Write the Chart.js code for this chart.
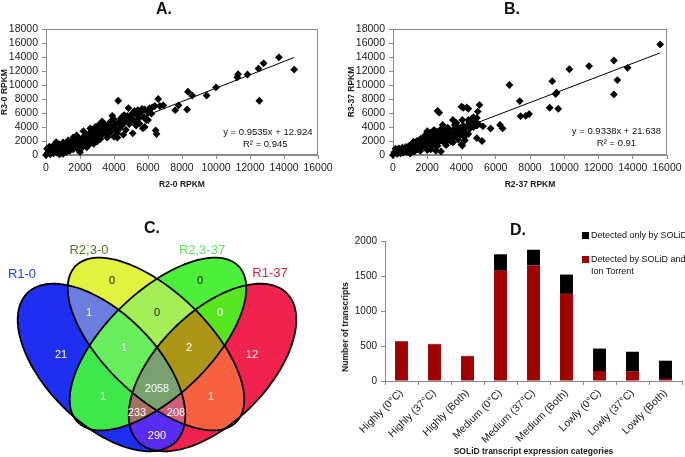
<!DOCTYPE html>
<html>
<head>
<meta charset="utf-8">
<script src="https://cdn.jsdelivr.net/npm/chart.js@4.4.0/dist/chart.umd.min.js"></script>
<style>
body { margin: 0; background: #fff; font-family: "Liberation Sans", Arial, sans-serif; }
#wrap { position: relative; width: 685px; height: 457px; overflow: hidden; background: #fff; }
canvas { position: absolute; }
.lbl { position: absolute; white-space: nowrap; transform: translate(-50%, -50%); }
.panel { font-weight: bold; font-size: 16px; color: #111; }
.set { font-size: 13px; }
.key { position: absolute; font-size: 9px; color: #111; line-height: 12px; white-space: nowrap; }
.sq { position: absolute; width: 7px; height: 7px; }
</style>
</head>
<body>
<div id="wrap">
  <canvas id="cA" width="340" height="200" style="left:0;top:0"></canvas>
  <canvas id="cB" width="345" height="200" style="left:340px;top:0"></canvas>
  <canvas id="cC" width="345" height="242" style="left:0;top:215px"></canvas>
  <canvas id="cD" width="350" height="242" style="left:335px;top:215px"></canvas>

  <div class="lbl panel" style="left:164px;top:9px">A.</div>
  <div class="lbl panel" style="left:512px;top:9px">B.</div>
  <div class="lbl panel" style="left:152px;top:228px">C.</div>
  <div class="lbl panel" style="left:518px;top:230px">D.</div>

  <div class="lbl set" style="left:22px;top:273px;color:#2a3bd8">R1-0</div>
  <div class="lbl set" style="left:89px;top:249px;color:#4f7a1f">R2,3-0</div>
  <div class="lbl set" style="left:202px;top:249px;color:#5fe85f">R2,3-37</div>
  <div class="lbl set" style="left:270px;top:272px;color:#e8204a">R1-37</div>

  <div class="lbl" style="left:345px;top:327px;transform:translate(-50%,-50%) rotate(-90deg);font-weight:bold;font-size:8.6px;color:#111">Number of transcripts</div>

  <div class="sq" style="left:582px;top:232px;background:#000"></div>
  <div class="key" style="left:591px;top:229px">Detected only by SOLiD</div>
  <div class="sq" style="left:582px;top:256px;background:#a00000"></div>
  <div class="key" style="left:591px;top:253px">Detected by SOLiD and<br>Ion Torrent</div>
</div>

<script>
// ---- data ----
// A: R2-0 RPKM (x) vs R3-0 RPKM (y)
const scatterA = [
  [0,0],[80,250],[150,600],[60,900],[250,100],[300,450],[350,850],[200,1200],[450,250],[500,600],
  [550,1000],[450,1400],[600,1850],[650,300],[700,700],[750,1150],[800,1500],[850,450],[900,900],[950,1300],
  [1000,150],[1050,650],[1100,1100],[1150,1600],[1200,400],[1250,850],[1300,1300],[1350,1800],[1400,600],[1450,1050],
  [1500,1500],[1550,2000],[1600,800],[1650,1250],[1700,1700],[1750,2200],[1800,1000],[1850,1450],[1900,1900],[1950,2350],
  [2000,400],[2050,1250],[2100,1700],[2150,2150],[2200,2600],[2250,1500],[2300,1950],[2350,2400],[2400,2900],[2450,1700],
  [2500,2200],[2550,2700],[2600,3200],[2650,2000],[2700,2500],[2750,3000],[2800,3600],[2850,2300],[2900,2800],[2950,3300],
  [3000,3900],[3050,2600],[3100,3100],[3200,3600],[3250,4100],[3300,2900],[3400,3400],[3500,4000],[3550,3100],[3650,3700],
  [3700,4400],[3800,3300],[3900,3900],[3900,5600],[4000,2600],[4050,4300],[4100,3600],[4200,2500],[4250,7750],[4300,4700],
  [4350,3800],[4400,5200],[4450,4200],[4500,5500],[4550,2900],[4600,4600],[4700,3600],[4750,5000],[4850,6700],[4900,4400],
  [5000,5400],[5100,3100],[5100,6000],[5200,4800],[5300,5800],[5400,6400],[5450,5200],[5500,4500],[5600,6200],[5650,6600],
  [5700,3800],[5750,5400],[5800,4000],[5900,5000],[6000,6000],[6100,6700],[6200,5900],[6250,6800],[6400,7000],[6450,3500],
  [6500,3000],[6600,8000],[6700,7000],[6900,7100],[7600,6400],[7800,7100],[8300,6500],[8350,9050],[8600,8500],[9450,8500],
  [10000,9650],[11250,11100],[11300,11550],[11850,11500],[12500,12350],[12550,7750],[12800,13100],[13700,13950],[14600,12200],
  [800,100],[1000,1800],[1300,2100],[1800,2800],[2200,3400],[2400,1100],[2600,3800],[2800,1600],[2900,4000],[3000,1900],
  [3100,4300],[3200,2300],[3300,4800],[3400,4500],[3600,2500],[3700,3000],[3800,4800],[4000,5100],[4200,3100],[4600,5700],
  [4800,5600],[5000,4900],[5200,6300],[5300,4200],[5500,5900],[5800,6500],[6000,5000],[2100,1000],[2500,1400],[1600,2500]
];
const trendA = [[0,13],[14600,13934]];
const eqA = ['y = 0.9535x + 12.924', 'R\u00B2 = 0.945'];

// B: R2-37 RPKM (x) vs R3-37 RPKM (y)
const scatterB = [
  [0,0],[80,400],[150,900],[250,150],[300,550],[350,950],[450,250],[500,650],[550,1050],[600,350],
  [700,750],[750,1150],[800,400],[900,900],[950,1350],[1000,200],[1050,700],[1100,1200],[1150,1700],[1250,500],
  [1300,1000],[1350,1500],[1400,2000],[1450,800],[1500,1300],[1550,1800],[1600,2300],[1650,1000],[1700,1600],[1750,2100],
  [1800,2600],[1850,1300],[1900,1900],[1950,2400],[2000,3000],[2000,700],[2050,1600],[2100,2200],[2150,2700],[2200,3200],
  [2250,1200],[2300,1900],[2350,2500],[2400,3100],[2450,1500],[2500,2200],[2550,2800],[2600,3300],[2600,6300],[2650,1800],
  [2700,2500],[2700,6050],[2750,3100],[2800,500],[2800,2100],[2850,2700],[2900,3300],[2900,4300],[2950,1900],[3000,2400],
  [3100,2900],[3200,2100],[3300,2600],[3350,3200],[3400,2300],[3500,2900],[3500,5000],[3600,3800],[3600,4300],[3650,2600],
  [3700,3300],[3800,2200],[3850,3700],[3900,2900],[4000,1500],[4050,1350],[4050,3500],[4100,4200],[4100,6750],[4150,2600],
  [4200,3300],[4300,4000],[4300,6800],[4400,5000],[4500,3800],[4600,4400],[4700,5400],[4700,4000],[4800,4600],[4900,2400],
  [4900,4200],[4950,6200],[5050,7150],[5200,2000],[5250,4100],[5700,3800],[6250,4300],[6400,3800],[6800,10000],[7400,7700],
  [7450,5550],[7750,5600],[7950,5850],[9150,6750],[9300,10550],[9500,8700],[9550,8900],[9650,6600],[10300,12250],[11450,12700],
  [12900,13500],[12900,8650],[13100,10700],[13700,12450],[15600,15800],
  [1600,600],[1900,2900],[2000,3400],[2200,800],[2400,3600],[2600,1300],[2800,3700],[3000,1700],[3000,3500],[3200,3900],
  [3400,1900],[3500,1800],[3700,4600],[3800,4000],[4050,5000],[4200,2100],[4400,3000],[4450,4600],[4600,5200],[4800,4300],
  [4900,5300],[5000,4400],[4000,6900],[4400,6600],[3300,3600],[2300,2900],[1200,1900],[2500,600],[3100,1400],[3900,3400]
];
const trendB = [[0,22],[15600,14589]];
const eqB = ['y = 0.9338x + 21.638', 'R\u00B2 = 0.91'];

// C: Venn diagram
const vennRegions = ['A','B','C','D','AB','AC','AD','BC','BD','CD','ABC','ABD','ACD','BCD','ABCD'];
const vennCounts  = [21, 0, 0, 12, 1, 1, 290, 0, 1, 0, 1, 208, 233, 2, 2058];

// D: stacked bars
const catD = ['Highly (0\u00B0C)','Highly (37\u00B0C)','Highly (Both)','Medium (0\u00B0C)','Medium (37\u00B0C)',
              'Medium (Both)','Lowly (0\u00B0C)','Lowly (37\u00B0C)','Lowly (Both)'];
const bothD = [565, 525, 355, 1575, 1650, 1245, 143, 133, 30];
const solidOnlyD = [5, 5, 3, 235, 225, 275, 320, 285, 260];

// ---- layout / style ----
Chart.defaults.font.family = '"Liberation Sans", Arial, sans-serif';
Chart.defaults.color = '#1a1a1a';

// ellipse geometry for the venn (same units as the hidden scales)
const vennShapes = {
  A: {cx:101.5, cy:367.5, a:105, b:55, rot:45},
  B: {cx:156,   cy:344,   a:112, b:52, rot:44},
  C: {cx:158,   cy:344,   a:112, b:52, rot:-44},
  D: {cx:212.5, cy:367.5, a:105, b:55, rot:-45}
};
const vennLabelPos = {
  A:[61,355], B:[112,281], C:[200,281], D:[252,355], AB:[89,313], AC:[103,397], AD:[157,436],
  BC:[157,313], BD:[211,397], CD:[220,313], ABC:[124,348], ABD:[176,413], ACD:[137,413], BCD:[189,348], ABCD:[157,389]
};
const vennFill = {
  A:'#1f2ff2', B:'#e2f23f', C:'#4cf03a', D:'#f2224e', AB:'#6b7ee0', AC:'#3de84a', AD:'#5a2cf2',
  BC:'#a3ef55', BD:'#f8613f', CD:'#55e620', ABC:'#68ee5c', ABD:'#d15c7c', ACD:'#a47262', BCD:'#ad9518', ABCD:'#79a06f'
};
const darkText = ['B','C','BC'];

const boxPlugin = {
  id: 'box',
  beforeDatasetsDraw(chart) {
    const {ctx, chartArea: a} = chart;
    ctx.save();
    ctx.strokeStyle = '#8a8a8a';
    ctx.lineWidth = 1;
    ctx.strokeRect(a.left + 0.5, a.top + 0.5, a.right - a.left - 1, a.bottom - a.top - 1);
    ctx.restore();
  }
};

function eqPlugin(lines, spots) {
  return {
    id: 'eq',
    afterDatasetsDraw(chart) {
      const {ctx, scales} = chart;
      ctx.save();
      ctx.font = '9.5px "Liberation Sans", Arial, sans-serif';
      ctx.fillStyle = '#111';
      ctx.textAlign = 'center';
      ctx.textBaseline = 'middle';
      lines.forEach((t, i) => {
        ctx.fillText(t, scales.x.getPixelForValue(spots[i][0]), scales.y.getPixelForValue(spots[i][1]));
      });
      ctx.restore();
    }
  };
}

function scatterChart(id, pts, trend, xTitle, yTitle, pad, yTitlePad, eq, eqSpots) {
  const tickFont = {size: 10.5};
  const titleFont = {size: 8.5, weight: 'bold'};
  return new Chart(document.getElementById(id), {
    type: 'scatter',
    data: {
      datasets: [{
        type: 'line',
        data: trend.map(p => ({x: p[0], y: p[1]})),
        borderColor: '#000',
        borderWidth: 1,
        pointRadius: 0,
        fill: false
      }, {
        data: pts.map(p => ({x: p[0], y: p[1]})),
        pointStyle: 'rectRot',
        pointRadius: 3.9,
        backgroundColor: '#000',
        borderWidth: 0,
        clip: 6
      }]
    },
    options: {
      responsive: false,
      animation: false,
      events: [],
      layout: {padding: {top: 29, right: pad.right, left: 0, bottom: 8}},
      plugins: {legend: {display: false}, tooltip: {enabled: false}},
      scales: {
        x: {
          type: 'linear', min: 0, max: 16000,
          ticks: {stepSize: 2000, autoSkip: false, maxRotation: 0, font: tickFont, padding: 3, callback: v => String(v)},
          grid: {drawOnChartArea: false, tickLength: 4, color: '#8a8a8a'},
          border: {color: '#8a8a8a'},
          title: {display: true, text: xTitle, font: titleFont, padding: {top: 0, bottom: 2}},
          afterFit(s) { s.height = 37; }
        },
        y: {
          min: 0, max: 18000,
          ticks: {stepSize: 2000, autoSkip: false, font: tickFont, padding: 4, callback: v => String(v)},
          grid: {drawOnChartArea: false, tickLength: 4, color: '#8a8a8a'},
          border: {color: '#8a8a8a'},
          title: {display: true, text: yTitle, font: titleFont, padding: {top: yTitlePad, bottom: 0}},
          afterFit(s) { s.width = pad.axis; }
        }
      }
    },
    plugins: [boxPlugin, eqPlugin(eq, eqSpots)]
  });
}

scatterChart('cA', scatterA, trendA, 'R2-0 RPKM', 'R3-0 RPKM', {axis: 46, right: 22}, 0, eqA, [[13050, 3300], [12900, 1550]]);
scatterChart('cB', scatterB, trendB, 'R2-37 RPKM', 'R3-37 RPKM', {axis: 53, right: 18}, 7, eqB, [[13050, 3400], [13050, 1650]]);

// ---- venn ----
function ellipsePath(ctx, sx, sy, e) {
  const r = e.rot * Math.PI / 180;
  ctx.beginPath();
  for (let k = 0; k <= 120; k++) {
    const t = k / 120 * 2 * Math.PI;
    const u = e.a * Math.cos(t), v = e.b * Math.sin(t);
    const x = e.cx + u * Math.cos(r) - v * Math.sin(r);
    const y = e.cy + u * Math.sin(r) + v * Math.cos(r);
    const px = sx.getPixelForValue(x), py = sy.getPixelForValue(y);
    if (k === 0) ctx.moveTo(px, py); else ctx.lineTo(px, py);
  }
  ctx.closePath();
}

const vennPlugin = {
  id: 'venn',
  beforeDatasetsDraw(chart) {
    const {ctx, scales: {x, y}} = chart;
    const order = vennRegions.slice().sort((p, q) => p.length - q.length);
    order.forEach(reg => {
      ctx.save();
      reg.split('').forEach(s => { ellipsePath(ctx, x, y, vennShapes[s]); ctx.clip(); });
      ctx.fillStyle = vennFill[reg];
      ctx.fillRect(0, 0, chart.width, chart.height);
      ctx.restore();
    });
    ctx.save();
    ctx.strokeStyle = '#000';
    ctx.lineWidth = 1.8;
    Object.keys(vennShapes).forEach(s => { ellipsePath(ctx, x, y, vennShapes[s]); ctx.stroke(); });
    ctx.restore();
  },
  afterDatasetsDraw(chart) {
    const {ctx} = chart;
    const meta = chart.getDatasetMeta(0);
    ctx.save();
    ctx.font = '11px "Liberation Sans", Arial, sans-serif';
    ctx.textAlign = 'center';
    ctx.textBaseline = 'middle';
    meta.data.forEach((pt, i) => {
      const reg = vennRegions[i];
      ctx.fillStyle = darkText.includes(reg) ? '#1a1a1a' : '#ffffff';
      ctx.fillText(String(vennCounts[i]), pt.x, pt.y);
    });
    ctx.restore();
  }
};

new Chart(document.getElementById('cC'), {
  type: 'scatter',
  data: {
    datasets: [{
      data: vennRegions.map(r => ({x: vennLabelPos[r][0], y: vennLabelPos[r][1]})),
      pointRadius: 0
    }]
  },
  options: {
    responsive: false,
    animation: false,
    events: [],
    layout: {padding: 0},
    plugins: {legend: {display: false}, tooltip: {enabled: false}},
    scales: {
      x: {type: 'linear', display: false, min: 0, max: 345},
      y: {type: 'linear', display: false, min: 215, max: 457, reverse: true}
    }
  },
  plugins: [vennPlugin]
});

// ---- stacked bars ----
new Chart(document.getElementById('cD'), {
  type: 'bar',
  data: {
    labels: catD,
    datasets: [{
      label: 'Detected by SOLiD and Ion Torrent',
      data: bothD,
      backgroundColor: '#a00000'
    }, {
      label: 'Detected only by SOLiD',
      data: solidOnlyD,
      backgroundColor: '#000000'
    }]
  },
  options: {
    responsive: false,
    animation: false,
    events: [],
    layout: {padding: {top: 26, right: 3, left: 0, bottom: 0}},
    datasets: {bar: {barPercentage: 0.8, categoryPercentage: 0.49}},
    plugins: {legend: {display: false}, tooltip: {enabled: false}},
    scales: {
      x: {
        stacked: true,
        ticks: {minRotation: 45, maxRotation: 45, autoSkip: false, font: {size: 10.5}, padding: 2},
        grid: {drawOnChartArea: false, tickLength: 4, color: '#8a8a8a', offset: true},
        border: {color: '#8a8a8a'},
        title: {display: true, text: 'SOLiD transcript expression categories', font: {size: 8.5, weight: 'bold'}, padding: {top: 0, bottom: 0}},
        afterFit(s) { s.height = 76; }
      },
      y: {
        stacked: true, min: 0, max: 2000,
        ticks: {stepSize: 500, font: {size: 10}, padding: 4, callback: v => String(v)},
        grid: {drawOnChartArea: false, tickLength: 4, color: '#8a8a8a'},
        border: {color: '#8a8a8a'},
        afterFit(s) { s.width = 50; }
      }
    }
  }
});
</script>
</body>
</html>
